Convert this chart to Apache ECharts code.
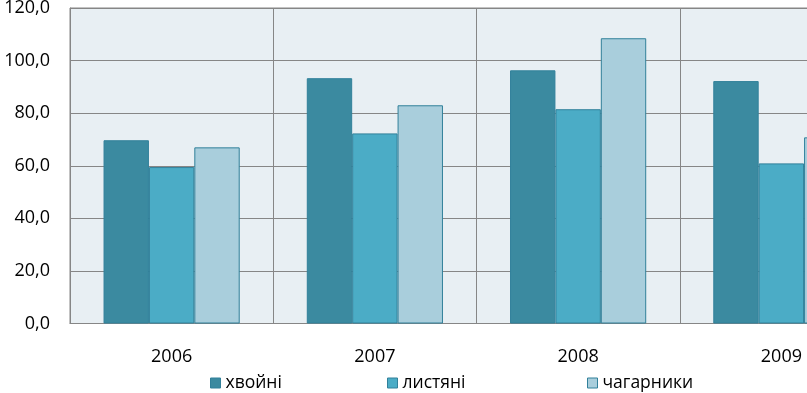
<!DOCTYPE html>
<html>
<head>
<meta charset="utf-8">
<script src="https://cdn.jsdelivr.net/npm/echarts@6/dist/echarts.min.js"></script>
<style>
html,body{margin:0;padding:0;background:#fff;}
#chart{width:807px;height:393px;}
</style>
</head>
<body>
<div id="chart"></div>
<script>
var categories = ['2006', '2007', '2008', '2009'];
var seriesNames = ['хвойні', 'листяні', 'чагарники'];
var hvoyni = [69.7, 93.3, 96.3, 92.2];
var lystiani = [59.5, 72.3, 81.5, 60.9];
var chaharnyky = [67.0, 83.0, 108.5, 70.8];
var yTicks = [0, 20, 40, 60, 80, 100, 120];

var FONT = 'Open Sans';
var colors = ['#3B8AA0', '#4BACC6', '#A9CEDC'];
var chart = echarts.init(document.getElementById('chart'), null, {renderer: 'canvas'});

function mkSeries(name, data, color) {
  return {
    name: name,
    type: 'bar',
    data: data,
    barGap: '0%',
    barCategoryGap: '33%',
    itemStyle: {color: color, borderColor: '#31809A', borderWidth: 1},
    emphasis: {disabled: true},
    animation: false
  };
}

function mkLegend(name, left) {
  return {
    data: [name],
    left: left,
    top: 374,
    padding: 0,
    itemWidth: 10,
    itemHeight: 10,
    itemGap: 0,
    icon: 'rect',
    textStyle: {fontFamily: FONT, fontSize: 17.5, color: '#000'},
    itemStyle: {borderColor: '#31809A', borderWidth: 1}
  };
}

chart.setOption({
  animation: false,
  legend: [mkLegend(seriesNames[0], 210), mkLegend(seriesNames[1], 387), mkLegend(seriesNames[2], 587)],
  grid: {
    left: 70, top: 8, width: 813, height: 315.5,
    outerBoundsMode: 'none',
    containLabel: false,
    show: true, backgroundColor: '#E8EFF3', borderColor: '#868686', borderWidth: 1
  },
  xAxis: {
    type: 'category',
    data: categories,
    axisLine: {lineStyle: {color: '#868686'}},
    axisTick: {show: false},
    splitLine: {show: true, lineStyle: {color: '#868686', width: 1}},
    axisLabel: {fontFamily: FONT, fontSize: 18, color: '#000', margin: 24}
  },
  yAxis: {
    type: 'value',
    min: yTicks[0], max: yTicks[yTicks.length - 1], interval: 20,
    axisLine: {show: true, lineStyle: {color: '#868686'}},
    axisTick: {show: false},
    splitLine: {lineStyle: {color: '#868686', width: 1}},
    axisLabel: {
      fontFamily: FONT, fontSize: 18, color: '#000', margin: 20,
      formatter: function (v) { return v.toFixed(1).replace('.', ','); }
    }
  },
  series: [
    mkSeries(seriesNames[0], hvoyni, colors[0]),
    mkSeries(seriesNames[1], lystiani, colors[1]),
    mkSeries(seriesNames[2], chaharnyky, colors[2])
  ]
});
</script>
</body>
</html>
